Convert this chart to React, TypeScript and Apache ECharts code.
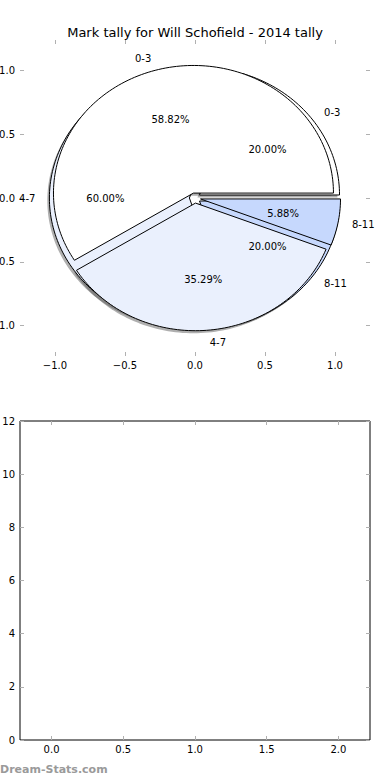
import React, { useEffect, useRef } from 'react';
import * as echarts from 'echarts';

// ---- data ----
const categories = ['0-3', '4-7', '8-11'];
const tallyA = [1, 3, 1];
const tallyB = [10, 6, 1];
const sliceColors = ['#FFFFFF', '#EAF0FD', '#C6D8FD'];
const pieTicks = [-1, -0.5, 0, 0.5, 1];
const lowerXTicks = [0, 0.5, 1, 1.5, 2];
const lowerYTicks = [0, 2, 4, 6, 8, 10, 12];
const titleText = 'Mark tally for Will Schofield - 2014 tally';
const watermark = 'Dream-Stats.com';

const EXPLODE = 0.04;
const LABEL_DIST = 1.1;
const PCT_DIST = 0.6;
const SHADOW_DX = -0.015;
const SHADOW_DY = -0.02;
const FONT = 'DejaVu Sans';

function buildSlices(values: number[], pie: number) {
  const total = values.reduce((a, b) => a + b, 0);
  let acc = 0;
  return values.map((v, i) => {
    const start = (acc / total) * 360;
    acc += v;
    const end = (acc / total) * 360;
    return { value: [0, 0, start, end, pie, i, (v / total) * 100] };
  });
}

const fmt1 = (v: number) => v.toFixed(1).replace('-', '\u2212');

export default function App() {
  const ref = useRef<HTMLDivElement>(null);
  useEffect(() => {
    if (!ref.current) return;
    const chart = echarts.init(ref.current, null, { renderer: 'svg' });

    const renderItem = (params: any, api: any) => {
      const start = api.value(2);
      const end = api.value(3);
      const pie = api.value(4);
      const idx = api.value(5);
      const pct = api.value(6);
      const mid = ((start + end) / 2) * Math.PI / 180;
      const cx = EXPLODE * Math.cos(mid);
      const cy = EXPLODE * Math.sin(mid);
      const pts: number[][] = [[cx, cy]];
      const n = Math.max(2, Math.ceil((end - start) / 1.5));
      for (let k = 0; k <= n; k++) {
        const a = (start + ((end - start) * k) / n) * Math.PI / 180;
        pts.push([cx + Math.cos(a), cy + Math.sin(a)]);
      }
      const wedgePts = pts.map((p) => api.coord(p));
      const shadowPts = pts.map((p) => api.coord([p[0] + SHADOW_DX, p[1] + SHADOW_DY]));
      const lx = cx + LABEL_DIST * Math.cos(mid);
      const ly = cy + LABEL_DIST * Math.sin(mid);
      const lp = api.coord([lx, ly]);
      const pp = api.coord([cx + PCT_DIST * Math.cos(mid), cy + PCT_DIST * Math.sin(mid)]);
      return {
        type: 'group',
        children: [
          {
            type: 'polygon',
            z2: 0,
            shape: { points: shadowPts },
            style: { fill: 'rgba(77,77,77,0.45)', stroke: 'none' },
            silent: true,
          },
          {
            type: 'polygon',
            z2: 10 + pie,
            shape: { points: wedgePts },
            style: { fill: sliceColors[idx], stroke: '#000', lineWidth: 1 },
          },
          {
            type: 'text',
            z2: 30,
            x: lp[0],
            y: lp[1],
            style: {
              text: categories[idx],
              fill: '#000',
              fontSize: 10,
              fontFamily: FONT,
              align: lx > 0 ? 'left' : 'right',
              verticalAlign: 'middle',
            },
          },
          {
            type: 'text',
            z2: 30,
            x: pp[0],
            y: pp[1],
            style: {
              text: pct.toFixed(2) + '%',
              fill: '#000',
              fontSize: 10,
              fontFamily: FONT,
              align: 'center',
              verticalAlign: 'middle',
            },
          },
        ],
      };
    };

    const tickStyle = { show: true, inside: true, length: 4, lineStyle: { color: '#b0b0b0', width: 1 } };
    const labelStyle = { color: '#000', fontSize: 10, fontFamily: FONT };
    const noLine = { show: false, onZero: false };

    chart.setOption({
      animation: false,
      backgroundColor: '#fff',
      title: {
        text: titleText,
        left: 'center',
        top: 21,
        textStyle: { fontSize: 13, fontWeight: 'normal', color: '#000', fontFamily: FONT },
      },
      grid: [
        { left: 20, top: 40, width: 350, height: 316, outerBoundsMode: 'none', containLabel: false },
        { left: 20, top: 421, width: 350, height: 319, outerBoundsMode: 'none', containLabel: false, show: true, borderColor: '#000', borderWidth: 1, backgroundColor: 'transparent' },
      ],
      xAxis: [
        {
          gridIndex: 0, type: 'value', min: -1.25, max: 1.25, position: 'bottom',
          axisLine: noLine, splitLine: { show: false },
          axisTick: { ...tickStyle, customValues: pieTicks },
          axisLabel: { ...labelStyle, margin: 4, customValues: pieTicks, formatter: fmt1 },
        },
        {
          gridIndex: 0, type: 'value', min: -1.25, max: 1.25, position: 'top',
          axisLine: noLine, splitLine: { show: false },
          axisTick: { ...tickStyle, customValues: pieTicks },
          axisLabel: { show: false },
        },
        {
          gridIndex: 1, type: 'value', min: -0.22, max: 2.22, position: 'bottom',
          axisLine: noLine, splitLine: { show: false },
          axisTick: { ...tickStyle, customValues: lowerXTicks },
          axisLabel: { ...labelStyle, margin: 4, customValues: lowerXTicks, formatter: fmt1 },
        },
        {
          gridIndex: 1, type: 'value', min: -0.22, max: 2.22, position: 'top',
          axisLine: noLine, splitLine: { show: false },
          axisTick: { ...tickStyle, customValues: lowerXTicks },
          axisLabel: { show: false },
        },
      ],
      yAxis: [
        {
          gridIndex: 0, type: 'value', min: -1.238, max: 1.238, position: 'left',
          axisLine: noLine, splitLine: { show: false },
          axisTick: { ...tickStyle, customValues: pieTicks },
          axisLabel: { ...labelStyle, margin: 5, customValues: pieTicks, formatter: fmt1 },
        },
        {
          gridIndex: 0, type: 'value', min: -1.238, max: 1.238, position: 'right',
          axisLine: noLine, splitLine: { show: false },
          axisTick: { ...tickStyle, customValues: pieTicks },
          axisLabel: { show: false },
        },
        {
          gridIndex: 1, type: 'value', min: 0, max: 12, position: 'left',
          axisLine: noLine, splitLine: { show: false },
          axisTick: { ...tickStyle, customValues: lowerYTicks },
          axisLabel: { ...labelStyle, margin: 5, customValues: lowerYTicks, formatter: (v: number) => String(v) },
        },
        {
          gridIndex: 1, type: 'value', min: 0, max: 12, position: 'right',
          axisLine: noLine, splitLine: { show: false },
          axisTick: { ...tickStyle, customValues: lowerYTicks },
          axisLabel: { show: false },
        },
      ],
      graphic: [
        {
          type: 'text',
          left: 0,
          top: 764,
          style: { text: watermark, fill: '#9a9a9a', fontSize: 11, fontWeight: 'bold', fontFamily: FONT },
        },
      ],
      series: [
        {
          type: 'custom',
          xAxisIndex: 0,
          yAxisIndex: 0,
          clip: false,
          renderItem,
          data: [...buildSlices(tallyA, 0), ...buildSlices(tallyB, 1)],
        },
        {
          type: 'line',
          xAxisIndex: 2,
          yAxisIndex: 2,
          data: [],
        },
      ],
    });
    return () => chart.dispose();
  }, []);
  return <div ref={ref} style={{ position: 'absolute', left: 0, top: 0, width: 390, height: 780 }} />;
}
